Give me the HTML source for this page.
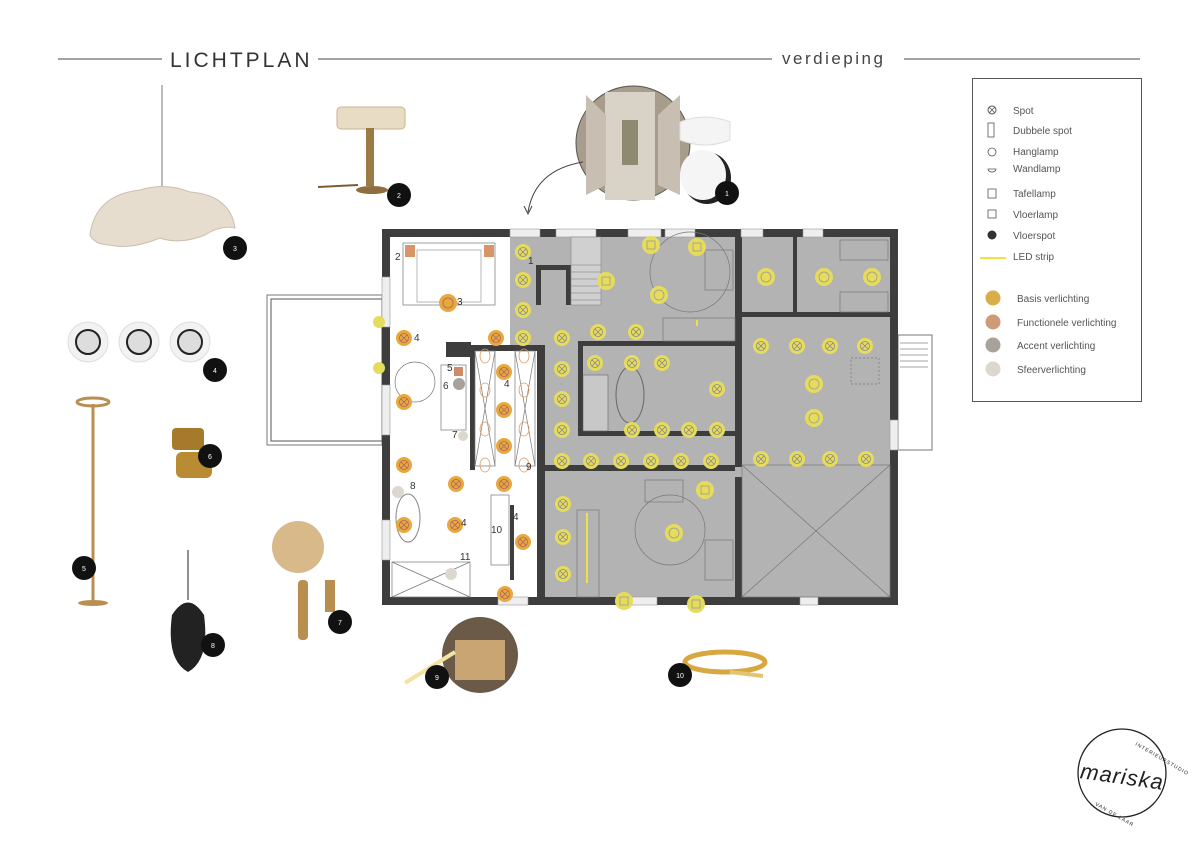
<!DOCTYPE html>
<html><head><meta charset="utf-8"><style>
html,body{margin:0;padding:0;background:#fff;}
svg{display:block;font-family:"Liberation Sans",sans-serif;}
</style></head><body>
<svg width="1200" height="848" viewBox="0 0 1200 848" xmlns="http://www.w3.org/2000/svg">
<defs>
<g id="spotY"><circle r="8" fill="#e6dc5c"/><circle r="4.5" fill="none" stroke="#888" stroke-width="0.8"/><path d="M-3,-3L3,3M3,-3L-3,3" stroke="#888" stroke-width="0.8"/></g>
<g id="spotO"><circle r="8" fill="#e8a83c"/><circle r="4.5" fill="none" stroke="#a66" stroke-width="0.8"/><path d="M-3,-3L3,3M3,-3L-3,3" stroke="#a66" stroke-width="0.8"/></g>
<g id="hangY"><circle r="9" fill="#e6dc5c"/><circle r="5" fill="none" stroke="#999" stroke-width="0.8"/></g>
<g id="tafY"><circle r="9" fill="#e6dc5c"/><rect x="-4" y="-4" width="8" height="8" fill="none" stroke="#999" stroke-width="0.8"/></g>
</defs>
<line x1="58" y1="59" x2="162" y2="59" stroke="#444" stroke-width="1"/>
<text x="170" y="67" font-size="21" letter-spacing="3" fill="#333">LICHTPLAN</text>
<line x1="318" y1="59" x2="772" y2="59" stroke="#444" stroke-width="1"/>
<text x="782" y="64" font-size="17" letter-spacing="2.5" fill="#444">verdieping</text>
<line x1="904" y1="59" x2="1140" y2="59" stroke="#444" stroke-width="1"/>

<rect x="972.5" y="78.5" width="169" height="323" fill="#fff" stroke="#555" stroke-width="1"/>
<g font-size="10" fill="#555">
<circle cx="992" cy="110" r="4" fill="none" stroke="#555"/><path d="M989,107L995,113M995,107L989,113" stroke="#555" stroke-width="0.8"/>
<text x="1013" y="114">Spot</text>
<rect x="988" y="123" width="6" height="14" fill="none" stroke="#555" stroke-width="0.8"/><text x="1013" y="134">Dubbele spot</text>
<circle cx="992" cy="152" r="4" fill="none" stroke="#555" stroke-width="0.8"/><text x="1013" y="155">Hanglamp</text>
<path d="M988,169h8a4,3 0 0 1 -8,0z" fill="none" stroke="#555" stroke-width="0.8"/><text x="1013" y="172">Wandlamp</text>
<rect x="988" y="189" width="8" height="9" fill="none" stroke="#555" stroke-width="0.8"/><text x="1013" y="197">Tafellamp</text>
<rect x="988" y="210" width="8" height="8" fill="none" stroke="#555" stroke-width="0.8"/><text x="1013" y="218">Vloerlamp</text>
<circle cx="992" cy="235" r="4.5" fill="#333"/><text x="1013" y="239">Vloerspot</text>
<line x1="980" y1="258" x2="1006" y2="258" stroke="#f0e040" stroke-width="2"/><text x="1013" y="260">LED strip</text>
<circle cx="993" cy="298" r="7.5" fill="#d9ad4a"/><text x="1017" y="302">Basis verlichting</text>
<circle cx="993" cy="322" r="7.5" fill="#cf9a78"/><text x="1017" y="326">Functionele verlichting</text>
<circle cx="993" cy="345" r="7.5" fill="#a8a29a"/><text x="1017" y="349">Accent verlichting</text>
<circle cx="993" cy="369" r="7.5" fill="#dcd8d0"/><text x="1017" y="373">Sfeerverlichting</text>
</g>

<rect x="267" y="295" width="115" height="150" fill="#fff" stroke="#777" stroke-width="1"/>
<rect x="271" y="299" width="111" height="142" fill="none" stroke="#555" stroke-width="1"/>
<rect x="898" y="335" width="34" height="115" fill="#fff" stroke="#777"/>
<path d="M900,343h28M900,349h28M900,355h28M900,361h28M900,367h28" stroke="#888" stroke-width="0.7"/>

<rect x="382" y="229" width="516" height="376" fill="#b3b3b3"/>
<path d="M390,237H510V345H540V597H390Z" fill="#fff"/>
<rect x="510" y="237" width="30" height="110" fill="#b3b3b3"/>
<g fill="#3d3d3d">
<rect x="382" y="229" width="516" height="8"/>
<rect x="382" y="597" width="516" height="8"/>
<rect x="382" y="229" width="8" height="376"/>
<rect x="890" y="229" width="8" height="376"/>
<rect x="537" y="345" width="8" height="252"/>
<rect x="470" y="345" width="75" height="6"/>
<rect x="470" y="345" width="5" height="125"/>
<rect x="735" y="237" width="7" height="230"/>
<rect x="545" y="465" width="190" height="6"/>
<rect x="742" y="312" width="148" height="5"/>
<rect x="735" y="477" width="7" height="120"/>
<rect x="578" y="341" width="157" height="5"/>
<rect x="578" y="341" width="5" height="95"/>
<rect x="578" y="431" width="157" height="5"/>
<rect x="536" y="265" width="30" height="5"/>
<rect x="536" y="265" width="5" height="40"/>
<rect x="566" y="265" width="5" height="40"/>
<rect x="446" y="342" width="25" height="15"/>
<rect x="510" y="505" width="4" height="75"/>
<rect x="793" y="237" width="4" height="80"/>
</g>
<g fill="#eee" stroke="#999" stroke-width="0.6">
<rect x="510" y="229" width="30" height="8"/><rect x="556" y="229" width="40" height="8"/><rect x="628" y="229" width="33" height="8"/><rect x="665" y="229" width="30" height="8"/>
<rect x="741" y="229" width="22" height="8"/><rect x="803" y="229" width="20" height="8"/>
<rect x="382" y="277" width="8" height="50"/><rect x="382" y="385" width="8" height="50"/><rect x="382" y="520" width="8" height="40"/>
<rect x="498" y="597" width="30" height="8"/><rect x="622" y="597" width="35" height="8"/><rect x="800" y="597" width="18" height="8"/>
<rect x="890" y="420" width="8" height="30"/>
</g>
<rect x="571" y="237" width="30" height="68" fill="#d0d0d0" stroke="#888" stroke-width="0.6"/>
<path d="M571,265h30M571,272h30M571,279h30M571,286h30M571,293h30M571,300h30" stroke="#777" stroke-width="0.5"/>
<rect x="403" y="243" width="92" height="62" fill="#fff" stroke="#888" stroke-width="0.8"/>
<rect x="417" y="250" width="64" height="52" fill="none" stroke="#999" stroke-width="0.7"/>
<ellipse cx="408" cy="518" rx="12" ry="24" fill="#fff" stroke="#888"/>
<ellipse cx="630" cy="395" rx="14" ry="28" fill="none" stroke="#666"/>
<rect x="583" y="375" width="25" height="56" fill="#c8c8c8" stroke="#666" stroke-width="0.6"/>
<g fill="none" stroke="#777" stroke-width="0.7">
<rect x="475" y="351" width="20" height="115"/><rect x="515" y="351" width="20" height="115"/>
<path d="M475,351L495,466M495,351L475,466M515,351L535,466M535,351L515,466"/>
<rect x="742" y="465" width="148" height="132"/><path d="M742,465L890,597M890,465L742,597"/>
<rect x="840" y="240" width="48" height="20"/><rect x="840" y="292" width="48" height="20"/>
<rect x="663" y="318" width="72" height="23"/>
<rect x="577" y="510" width="22" height="87"/>
<circle cx="690" cy="272" r="40"/><circle cx="670" cy="530" r="35"/>
<circle cx="415" cy="382" r="20"/>
<rect x="851" y="358" width="28" height="26" stroke-dasharray="2,2"/>
<rect x="392" y="562" width="78" height="35"/><path d="M392,562L470,597M470,562L392,597"/>
<rect x="491" y="495" width="18" height="70"/>
<rect x="441" y="365" width="25" height="65"/>
<rect x="705" y="250" width="28" height="40"/><rect x="705" y="540" width="28" height="40"/>
<rect x="645" y="480" width="38" height="22"/>
</g>
<path d="M587,513v70M697,320v6" stroke="#f0e040" stroke-width="2"/>
<g>
<use href="#spotY" x="523" y="252"/><use href="#spotY" x="523" y="280"/><use href="#spotY" x="523" y="310"/><use href="#spotY" x="523" y="338"/>
<use href="#spotY" x="562" y="338"/><use href="#spotY" x="598" y="332"/><use href="#spotY" x="636" y="332"/>
<use href="#spotY" x="562" y="369"/><use href="#spotY" x="562" y="399"/><use href="#spotY" x="562" y="430"/>
<use href="#spotY" x="595" y="363"/><use href="#spotY" x="632" y="363"/><use href="#spotY" x="662" y="363"/><use href="#spotY" x="717" y="389"/>
<use href="#spotY" x="632" y="430"/><use href="#spotY" x="662" y="430"/><use href="#spotY" x="689" y="430"/><use href="#spotY" x="717" y="430"/>
<use href="#spotY" x="562" y="461"/><use href="#spotY" x="591" y="461"/><use href="#spotY" x="621" y="461"/><use href="#spotY" x="651" y="461"/><use href="#spotY" x="681" y="461"/><use href="#spotY" x="711" y="461"/>
<use href="#spotY" x="761" y="346"/><use href="#spotY" x="797" y="346"/><use href="#spotY" x="830" y="346"/><use href="#spotY" x="865" y="346"/>
<use href="#spotY" x="761" y="459"/><use href="#spotY" x="797" y="459"/><use href="#spotY" x="830" y="459"/><use href="#spotY" x="866" y="459"/>
<use href="#spotY" x="563" y="504"/><use href="#spotY" x="563" y="537"/><use href="#spotY" x="563" y="574"/>
<use href="#hangY" x="766" y="277"/><use href="#hangY" x="824" y="277"/><use href="#hangY" x="872" y="277"/><use href="#hangY" x="659" y="295"/><use href="#hangY" x="814" y="384"/><use href="#hangY" x="814" y="418"/><use href="#hangY" x="674" y="533"/>
<use href="#tafY" x="651" y="245"/><use href="#tafY" x="697" y="247"/><use href="#tafY" x="606" y="281"/><use href="#tafY" x="705" y="490"/><use href="#tafY" x="624" y="601"/><use href="#tafY" x="696" y="604"/>
<circle cx="379" cy="322" r="6" fill="#e6dc5c"/><circle cx="379" cy="368" r="6" fill="#e6dc5c"/>
</g>
<g>
<use href="#spotO" x="404" y="338"/><use href="#spotO" x="496" y="338"/><use href="#spotO" x="504" y="372"/><use href="#spotO" x="504" y="410"/><use href="#spotO" x="504" y="446"/>
<use href="#spotO" x="404" y="402"/><use href="#spotO" x="404" y="465"/><use href="#spotO" x="456" y="484"/><use href="#spotO" x="504" y="484"/>
<use href="#spotO" x="404" y="525"/><use href="#spotO" x="455" y="525"/><use href="#spotO" x="523" y="542"/><use href="#spotO" x="505" y="594"/>
<circle cx="448" cy="303" r="9" fill="#e8a83c"/><circle cx="448" cy="303" r="5" fill="none" stroke="#a66" stroke-width="0.8"/>
<rect x="405" y="245" width="10" height="12" fill="#d9956a"/><rect x="484" y="245" width="10" height="12" fill="#d9956a"/>
<rect x="454" y="367" width="9" height="9" fill="#cf8a68"/>
<circle cx="459" cy="384" r="6" fill="#a8a29a"/><circle cx="463" cy="436" r="5" fill="#dcd8d0"/><circle cx="398" cy="492" r="6" fill="#dcd8d0"/><circle cx="451" cy="574" r="6" fill="#dcd8d0"/>
</g>
<g fill="none" stroke="#e09a66" stroke-width="0.8">
<ellipse cx="485" cy="356" rx="5" ry="7"/><ellipse cx="485" cy="390" rx="5" ry="7"/><ellipse cx="485" cy="429" rx="5" ry="7"/><ellipse cx="485" cy="465" rx="5" ry="7"/>
<ellipse cx="524" cy="356" rx="5" ry="7"/><ellipse cx="524" cy="390" rx="5" ry="7"/><ellipse cx="524" cy="429" rx="5" ry="7"/><ellipse cx="524" cy="465" rx="5" ry="7"/>
</g>
<g font-size="10" fill="#333">
<text x="395" y="260">2</text><text x="528" y="264">1</text><text x="457" y="305">3</text><text x="414" y="341">4</text><text x="504" y="387">4</text>
<text x="447" y="371">5</text><text x="443" y="389">6</text><text x="452" y="438">7</text><text x="526" y="470">9</text><text x="410" y="489">8</text>
<text x="461" y="526">4</text><text x="513" y="520">4</text><text x="491" y="533">10</text><text x="460" y="560">11</text>
</g>

<line x1="162" y1="85" x2="162" y2="190" stroke="#777" stroke-width="1"/>
<path d="M90,235 Q95,195 140,190 Q165,182 190,192 Q230,195 235,228 Q220,225 205,235 Q180,245 160,238 Q130,250 110,245 Q95,245 90,235Z" fill="#e7ddcf" stroke="#cbbfae"/>
<circle cx="235" cy="248" r="12" fill="#111"/><text x="235" y="251" font-size="7" fill="#fff" text-anchor="middle">3</text>
<rect x="337" y="107" width="68" height="22" rx="4" fill="#e9dcc5" stroke="#c8b393"/>
<rect x="366" y="128" width="8" height="58" fill="#9c7a45"/>
<ellipse cx="372" cy="190" rx="16" ry="4" fill="#8f6f3f"/><line x1="318" y1="187" x2="358" y2="185" stroke="#7c5d35" stroke-width="2"/>
<circle cx="399" cy="195" r="12" fill="#111"/><text x="399" y="198" font-size="7" fill="#fff" text-anchor="middle">2</text>
<!-- photo 1 -->
<circle cx="633" cy="143" r="57" fill="#a89c8c" stroke="#555" stroke-width="1"/>
<path d="M605,92h50v108h-50z" fill="#d9d2c6"/>
<path d="M622,120h16v45h-16z" fill="#8d8a70"/>
<path d="M586,95l20,20v70l-20,10z" fill="#c8bfb2"/>
<path d="M680,95l-22,20v70l22,10z" fill="#c8bfb2"/>
<path d="M680,122 Q705,112 730,122 L730,140 Q705,150 680,140Z" fill="#f4f4f4" stroke="#ddd"/>
<ellipse cx="707" cy="178" rx="24" ry="26" fill="#222"/>
<ellipse cx="703" cy="175" rx="23" ry="25" fill="#f5f5f5"/>
<path d="M583,162 Q535,170 528,212" fill="none" stroke="#444" stroke-width="1"/>
<path d="M524,206l4,8l4,-8" fill="none" stroke="#444"/>
<circle cx="727" cy="193" r="12" fill="#111"/><text x="727" y="196" font-size="7" fill="#fff" text-anchor="middle">1</text>
<g fill="#f2f2f2" stroke="#ddd"><circle cx="88" cy="342" r="20"/><circle cx="139" cy="342" r="20"/><circle cx="190" cy="342" r="20"/></g>
<g fill="#ddd" stroke="#222" stroke-width="2"><circle cx="88" cy="342" r="12"/><circle cx="139" cy="342" r="12"/><circle cx="190" cy="342" r="12"/></g>
<circle cx="215" cy="370" r="12" fill="#111"/><text x="215" y="373" font-size="7" fill="#fff" text-anchor="middle">4</text>
<ellipse cx="93" cy="402" rx="16" ry="4" fill="none" stroke="#b88f50" stroke-width="3"/>
<line x1="93" y1="404" x2="93" y2="600" stroke="#b88f50" stroke-width="3"/>
<ellipse cx="93" cy="603" rx="15" ry="3" fill="#b88f50"/>
<circle cx="84" cy="568" r="12" fill="#111"/><text x="84" y="571" font-size="7" fill="#fff" text-anchor="middle">5</text>
<rect x="172" y="428" width="32" height="22" rx="4" fill="#a57a2a"/><rect x="176" y="452" width="36" height="26" rx="6" fill="#b98b32"/>
<circle cx="210" cy="456" r="12" fill="#111"/><text x="210" y="459" font-size="7" fill="#fff" text-anchor="middle">6</text>
<circle cx="298" cy="547" r="26" fill="#d8b98a"/><rect x="298" y="580" width="10" height="60" rx="4" fill="#b88f50"/><rect x="325" y="580" width="10" height="32" fill="#b88f50"/>
<circle cx="340" cy="622" r="12" fill="#111"/><text x="340" y="625" font-size="7" fill="#fff" text-anchor="middle">7</text>
<line x1="188" y1="550" x2="188" y2="600" stroke="#222"/>
<path d="M172,615 Q188,590 204,615 Q210,660 188,672 Q166,660 172,615Z" fill="#222"/>
<circle cx="213" cy="645" r="12" fill="#111"/><text x="213" y="648" font-size="7" fill="#fff" text-anchor="middle">8</text>
<circle cx="480" cy="655" r="38" fill="#6c5a48"/><path d="M455,640h50v40h-50z" fill="#caa574"/>
<line x1="405" y1="683" x2="455" y2="652" stroke="#f3e3a0" stroke-width="4"/>
<circle cx="437" cy="677" r="12" fill="#111"/><text x="437" y="680" font-size="7" fill="#fff" text-anchor="middle">9</text>
<ellipse cx="725" cy="662" rx="40" ry="10" fill="none" stroke="#d8a840" stroke-width="5"/>
<line x1="730" y1="672" x2="763" y2="676" stroke="#e4c470" stroke-width="4"/>
<circle cx="680" cy="675" r="12" fill="#111"/><text x="680" y="678" font-size="7" fill="#fff" text-anchor="middle">10</text>

<circle cx="1122" cy="773" r="44" fill="none" stroke="#222" stroke-width="1.3"/>
<text x="1122" y="784" font-size="22" fill="#222" text-anchor="middle" letter-spacing="1" transform="rotate(8 1122 778)" font-style="italic">mariska</text>
<text x="1135" y="745" font-size="5" fill="#222" letter-spacing="1" transform="rotate(30 1135 745)">INTERIEURSTUDIO</text>
<text x="1095" y="805" font-size="5" fill="#222" letter-spacing="1" transform="rotate(30 1095 805)">VAN DE LAAR</text>
</svg>
</body></html>
